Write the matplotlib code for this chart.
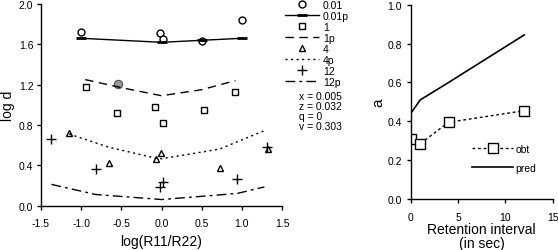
import matplotlib
matplotlib.use("Agg")
import matplotlib.pyplot as plt

plt.rcParams['font.family'] = ['Liberation Sans', 'DejaVu Sans']

# ---- left panel data ----
x_001 = [-1.0, -0.02, 0.02, 0.5, 1.0]
y_001 = [1.72, 1.71, 1.65, 1.63, 1.84]
x_001p = [-1.0, 0.0, 0.5, 1.0]
y_001p = [1.66, 1.62, 1.64, 1.66]

x_1 = [-0.94, -0.55, -0.08, 0.02, 0.53, 0.91]
y_1 = [1.18, 0.92, 0.98, 0.82, 0.95, 1.13]
x_gray = [-0.54]
y_gray = [1.21]
x_1p = [-0.95, -0.5, 0.0, 0.5, 0.92]
y_1p = [1.25, 1.17, 1.09, 1.15, 1.24]

x_4 = [-1.15, -0.66, -0.07, -0.01, 0.73, 1.33]
y_4 = [0.72, 0.42, 0.465, 0.52, 0.37, 0.56]
x_4p = [-1.15, -0.66, -0.07, 0.0, 0.72, 1.3]
y_4p = [0.71, 0.58, 0.47, 0.465, 0.56, 0.75]

x_12 = [-1.37, -0.82, -0.02, 0.015, 0.94, 1.31]
y_12 = [0.66, 0.36, 0.18, 0.235, 0.26, 0.58]
x_12p = [-1.37, -0.82, 0.0, 0.94, 1.28]
y_12p = [0.21, 0.11, 0.06, 0.12, 0.185]

params = ["x = 0.005", "z = 0.032", "q = 0", "v = 0.303"]

# ---- right panel data ----
ret = [0, 1, 4, 12]
obt = [0.31, 0.285, 0.395, 0.455]
pred = [0.44, 0.51, 0.60, 0.845]

fig = plt.figure(figsize=(5.58, 2.51), dpi=100)
ax1 = fig.add_axes([0.0735, 0.177, 0.432, 0.803])
ax2 = fig.add_axes([0.736, 0.203, 0.2545, 0.774])

fs = 7.5
ms = 5
lw = 1.0
h_o, = ax1.plot(x_001, y_001, 'o', ms=ms, mfc='white', mec='black', mew=1.0, ls='none', label='0.01')
h_op, = ax1.plot(x_001p, y_001p, '-', color='black', lw=lw, marker='_', ms=7, mew=2.0, label='0.01p')
h_s, = ax1.plot(x_1, y_1, 's', ms=ms, mfc='white', mec='black', mew=1.0, ls='none', label='1')
ax1.plot(x_gray, y_gray, 'o', ms=6, mfc='#999999', mec='#555555', mew=0.8, ls='none')
h_sp, = ax1.plot(x_1p, y_1p, color='black', lw=lw, dashes=(6, 4), label='1p')
h_t, = ax1.plot(x_4, y_4, '^', ms=ms, mfc='white', mec='black', mew=1.0, ls='none', label='4')
h_tp, = ax1.plot(x_4p, y_4p, color='black', lw=lw, dashes=(1.5, 2.5), label='4p')
h_p, = ax1.plot(x_12, y_12, '+', ms=7, mec='black', mew=1.0, ls='none', label='12')
h_pp, = ax1.plot(x_12p, y_12p, color='black', lw=lw, dashes=(7, 3, 2, 3), label='12p')

ax1.set_xlim(-1.5, 1.5)
ax1.set_ylim(0, 2.0)
ax1.set_xticks([-1.5, -1.0, -0.5, 0.0, 0.5, 1.0, 1.5])
ax1.set_xticklabels(['-1.5', '-1.0', '-0.5', '0.0', '0.5', '1.0', '1.5'])
ax1.set_yticks([0.0, 0.4, 0.8, 1.2, 1.6, 2.0])
ax1.set_yticklabels(['0.0', '0.4', '0.8', '1.2', '1.6', '2.0'])
ax1.set_xlabel('log(R11/R22)', fontsize=10, labelpad=4)
ax1.set_ylabel('log d', fontsize=10, labelpad=3)

ax1.legend(handles=[h_o, h_op, h_s, h_sp, h_t, h_tp, h_p, h_pp],
           loc='upper left', bbox_to_anchor=(1.012, 1.02), frameon=False,
           fontsize=fs, handlelength=3.3, handletextpad=0.35, labelspacing=0.09,
           borderaxespad=0, borderpad=0)

for i, t in enumerate(params):
    fig.text(299 / 558, 1 - (97 + i * 10) / 251, t, fontsize=fs, va='center', ha='left')

ax2.plot(ret, obt, color='black', lw=lw, dashes=(2, 2), marker='s', ms=7,
         mfc='white', mec='black', mew=1.0, label='obt')
ax2.plot(ret, pred, color='black', lw=1.2, label='pred')
ax2.set_xlim(0, 15)
ax2.set_ylim(0, 1.0)
ax2.set_xticks([0, 5, 10, 15])
ax2.set_yticks([0.0, 0.2, 0.4, 0.6, 0.8, 1.0])
ax2.set_yticklabels(['0.0', '0.2', '0.4', '0.6', '0.8', '1.0'])
ax2.set_xlabel('Retention interval\n(in sec)', fontsize=10, labelpad=0, linespacing=1.0)
ax2.set_ylabel('a', fontsize=11, labelpad=1)
ax2.legend(loc='upper left', bbox_to_anchor=(0.43, 0.285), frameon=False, fontsize=fs,
           handlelength=4.0, handletextpad=0.2, labelspacing=0.85, borderaxespad=0, borderpad=0)

for ax in (ax1, ax2):
    ax.spines['top'].set_visible(False)
    ax.spines['right'].set_visible(False)
    ax.spines['left'].set_linewidth(1.0)
    ax.spines['bottom'].set_linewidth(1.0)
    ax.tick_params(direction='out', length=3, width=1.0, labelsize=fs)
    ax.tick_params(axis='x', pad=6)
ax1.tick_params(axis='y', pad=2.5)
ax2.tick_params(axis='y', pad=3.5)

fig.savefig('out.png', dpi=100)
